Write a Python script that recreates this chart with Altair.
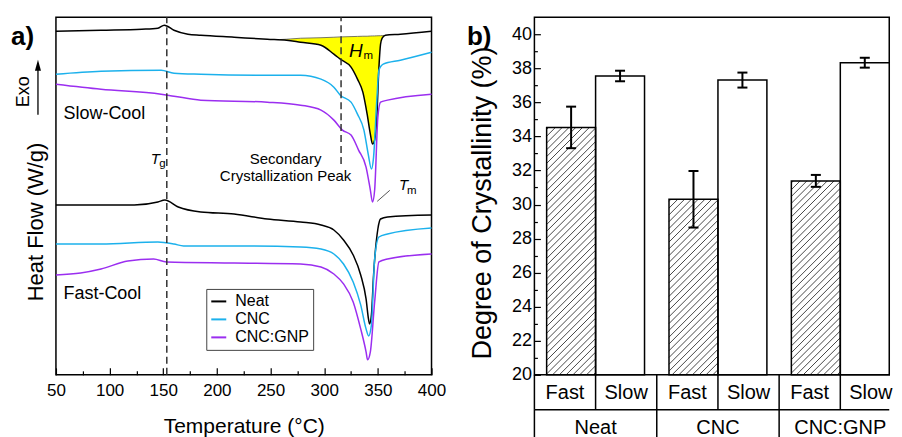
import altair as alt
import pandas as pd

# ---------------- Panel a: DSC heat-flow curves (stacked, arbitrary units) ----------------
materials = ["Neat", "CNC", "CNC:GNP"]
mat_colors = ["#000000", "#1cb1ec", "#9b2ef0"]

slow_neat_T = [50, 92, 130, 145, 151, 160, 173, 185, 216, 247, 265, 278, 297, 309, 315, 325, 331, 336, 340, 343, 345, 347, 349, 351, 352.5, 354, 357, 371, 400]
slow_neat_v = [3.44, 3.45, 3.46, 3.47, 3.50, 3.45, 3.41, 3.40, 3.38, 3.36, 3.35, 3.33, 3.30, 3.21, 3.16, 3.08, 2.96, 2.83, 2.61, 2.41, 2.31, 2.35, 2.58, 3.08, 3.31, 3.37, 3.40, 3.41, 3.44]

slow_cnc_T = [50, 92, 148, 160, 185, 247, 278, 297, 309, 315, 325, 331, 337, 341, 344, 346, 349, 351, 355, 371, 400]
slow_cnc_v = [3.01, 3.04, 3.05, 3.02, 3.01, 3.00, 3.00, 2.96, 2.88, 2.80, 2.73, 2.61, 2.45, 2.21, 2.06, 2.18, 2.75, 3.05, 3.11, 3.15, 3.23]

slow_gnp_T = [50, 92, 148, 160, 185, 247, 278, 297, 309, 317, 325, 332, 339, 343, 345, 347, 350, 352.5, 359, 400]
slow_gnp_v = [2.91, 2.86, 2.81, 2.79, 2.75, 2.73, 2.70, 2.65, 2.55, 2.45, 2.40, 2.25, 2.08, 1.85, 1.73, 1.85, 2.58, 2.73, 2.75, 2.81]

fast_neat_T = [50, 123, 145, 151.5, 164, 185, 216, 247, 278, 297, 309, 318, 327, 334, 339, 341.4, 342.3, 344, 346, 350, 352.5, 359, 400]
fast_neat_v = [1.70, 1.70, 1.73, 1.75, 1.68, 1.63, 1.61, 1.56, 1.53, 1.50, 1.45, 1.35, 1.20, 1.00, 0.76, 0.55, 0.51, 0.60, 1.00, 1.46, 1.56, 1.58, 1.60]

fast_cnc_T = [50, 92, 145, 160, 169, 216, 278, 297, 309, 318, 327, 334, 339, 341.4, 344, 347, 351, 359, 400]
fast_cnc_v = [1.31, 1.31, 1.33, 1.31, 1.29, 1.29, 1.28, 1.26, 1.21, 1.11, 0.93, 0.70, 0.46, 0.39, 0.50, 1.16, 1.38, 1.41, 1.47]

fast_gnp_T = [50, 73, 92, 117, 141, 153, 216, 278, 297, 309, 318, 327, 334, 339, 340.4, 343, 347, 351, 359, 400]
fast_gnp_v = [1.00, 1.02, 1.06, 1.14, 1.16, 1.13, 1.12, 1.11, 1.08, 1.01, 0.91, 0.73, 0.46, 0.23, 0.15, 0.23, 0.73, 1.13, 1.16, 1.21]

# melting enthalpy region (yellow) : curve and straight baseline
hm_T = [259, 265, 278, 297, 309, 315, 325, 331, 336, 340, 343, 345, 347, 349, 351, 352.5, 354, 355.5]
hm_curve = [3.355, 3.35, 3.33, 3.30, 3.21, 3.16, 3.08, 2.96, 2.83, 2.61, 2.41, 2.31, 2.35, 2.58, 3.08, 3.31, 3.37, 3.395]
hm_base = [3.357, 3.36, 3.37, 3.375, 3.38, 3.383, 3.386, 3.388, 3.39, 3.39, 3.392, 3.393, 3.393, 3.394, 3.395, 3.395, 3.396, 3.396]

tg_T = 153.3
sec_T = 315.7
x_ticks = [50, 100, 150, 200, 250, 300, 350, 400]
x_minor = [75, 125, 175, 225, 275, 325, 375]

# ---------------- Panel b: degree of crystallinity ----------------
groups = ["Neat", "CNC", "CNC:GNP"]
fast_vals = [34.53, 30.31, 31.39]
fast_err = [1.22, 1.66, 0.35]
slow_vals = [37.55, 37.31, 38.33]
slow_err = [0.31, 0.44, 0.29]
y_ticks_b = list(range(20, 41, 2))
y_minor_b = list(range(21, 41, 2))

# ---------------- build tables ----------------
rows = []
for mat, cool, Ts, vs in [
    ("Neat", "Slow", slow_neat_T, slow_neat_v),
    ("CNC", "Slow", slow_cnc_T, slow_cnc_v),
    ("CNC:GNP", "Slow", slow_gnp_T, slow_gnp_v),
    ("Neat", "Fast", fast_neat_T, fast_neat_v),
    ("CNC", "Fast", fast_cnc_T, fast_cnc_v),
    ("CNC:GNP", "Fast", fast_gnp_T, fast_gnp_v),
]:
    for t, v in zip(Ts, vs):
        rows.append({"T": t, "v": v, "material": mat, "cooling": cool})
curves = pd.DataFrame(rows)
hm_df = pd.DataFrame({"T": hm_T, "v": hm_curve, "base": hm_base})

GROUP_PX = 122.5
X_MAX_B = 2.9
W_A, H = 376, 358
W_B = GROUP_PX * X_MAX_B
xs = alt.Scale(domain=[50, 400], nice=False, zero=False)
ys = alt.Scale(domain=[0, 3.58], nice=False, zero=False)

xa_none = alt.X("T:Q", scale=xs, axis=None)
ya_none = alt.Y("v:Q", scale=ys, axis=None)

area = alt.Chart(hm_df).mark_area(color="#ffff00", opacity=1, interpolate="monotone").encode(
    x=alt.X("T:Q", scale=xs, axis=alt.Axis(
        orient="bottom", values=x_ticks, labelFontSize=17, labelColor="black", labelFlush=False,
        labelPadding=8, ticks=False, domain=False, grid=False, title="Temperature (°C)",
        titleFontSize=21, titleFontWeight="normal", titleColor="black", titleY=57.5,
        titleBaseline="alphabetic")),
    y=alt.Y("v:Q", scale=ys, axis=alt.Axis(
        orient="left", labels=False, ticks=False, domain=False, grid=False,
        title="Heat Flow (W/g)", titleFontSize=22, titleFontWeight="normal", titleColor="black",
        titleX=-13.5, titleY=204.5, titleAngle=270, titleAlign="center", titleBaseline="alphabetic")),
    y2="base:Q",
)
base_line = alt.Chart(hm_df).mark_line(color="#555555", strokeWidth=0.8).encode(x=xa_none, y=alt.Y("base:Q", scale=ys, axis=None))

lines = alt.Chart(curves).mark_line(strokeWidth=1.5, interpolate="monotone").encode(
    x=xa_none, y=ya_none,
    color=alt.Color("material:N", scale=alt.Scale(domain=materials, range=mat_colors),
                    legend=alt.Legend(title=None, orient="none", legendX=150.5, legendY=272,
                                      symbolType="stroke", symbolStrokeWidth=2, symbolSize=225,
                                      labelFontSize=16, labelColor="black", padding=4,
                                      strokeColor="#444444", fillColor="white", rowPadding=1,
                                      labelOffset=8)),
    detail="cooling:N",
)

tg_rule = alt.Chart(pd.DataFrame({"T": [tg_T], "y1": [0.0], "y2": [3.58]})).mark_rule(
    color="#333333", strokeWidth=1.5, strokeDash=[7, 4]).encode(
    x=alt.X("T:Q", scale=xs, axis=alt.Axis(orient="bottom", values=x_ticks, labels=False, domain=False,
                                             grid=False, ticks=True, tickSize=7, tickWidth=1.2,
                                             tickColor="black", offset=-7, title=None)),
    y=alt.Y("y1:Q", scale=ys, axis=None), y2="y2:Q")

sec_rule = alt.Chart(pd.DataFrame({"T": [sec_T], "y1": [2.11], "y2": [3.58]})).mark_rule(
    color="#333333", strokeWidth=1.5, strokeDash=[7, 4]).encode(
    x=alt.X("T:Q", scale=xs, axis=alt.Axis(orient="bottom", values=x_minor, labels=False, domain=False,
                                             grid=False, ticks=True, tickSize=4, tickWidth=1.2,
                                             tickColor="black", offset=-4, title=None)),
    y=alt.Y("y1:Q", scale=ys, axis=None), y2="y2:Q")

tm_ptr = alt.Chart(pd.DataFrame({"T": [349.4], "v": [1.737], "T2": [361.1], "v2": [1.847]})).mark_rule(
    color="#555555", strokeWidth=1).encode(x=xa_none, y=ya_none, x2="T2:Q", y2="v2:Q")

def txt(df, **kw):
    return alt.Chart(df).mark_text(**kw).encode(x=xa_none, y=ya_none, text="text:N")

t_cool = txt(pd.DataFrame({"T": [57, 57], "v": [2.56, 0.76], "text": ["Slow-Cool", "Fast-Cool"]}),
             align="left", baseline="alphabetic", fontSize=18, color="black")
t_sec = txt(pd.DataFrame({"T": [264, 264], "v": [2.11, 1.945], "text": ["Secondary", "Crystallization Peak"]}),
            align="center", baseline="alphabetic", fontSize=15, color="black")
t_it15 = txt(pd.DataFrame({"T": [138.4, 369.6], "v": [2.107, 1.847], "text": ["T", "T"]}),
             align="left", baseline="alphabetic", fontSize=15, fontStyle="italic", color="black")
t_it19 = txt(pd.DataFrame({"T": [323.0], "v": [3.18], "text": ["H"]}),
             align="left", baseline="alphabetic", fontSize=19, fontStyle="italic", color="black")
t_sub = txt(pd.DataFrame({"T": [146.2, 336.7, 377.1], "v": [2.08, 3.163, 1.813], "text": ["g", "m", "m"]}),
            align="left", baseline="alphabetic", fontSize=11.5, color="black")

one = pd.DataFrame({"k": [0]})
lab_a = alt.Chart(one).mark_text(text="a)", align="left", baseline="alphabetic", fontSize=26,
                                 fontWeight="bold", color="black").encode(x=alt.value(-45), y=alt.value(27.5))
exo = alt.Chart(one).mark_text(text="Exo", align="center", baseline="alphabetic", fontSize=18, angle=270,
                               color="black").encode(x=alt.value(-27), y=alt.value(74.5))
arrow_shaft = alt.Chart(one).mark_rule(color="black", strokeWidth=1.3).encode(
    x=alt.value(-18), y=alt.value(50), y2=alt.value(97.5))
arrow_head = alt.Chart(one).mark_point(shape="M0,-1L0.55,1L-0.55,1Z", size=121, filled=True, color="black",
                                       opacity=1).encode(x=alt.value(-18), y=alt.value(48))

panel_a = alt.layer(area, base_line, lines, tg_rule, sec_rule, tm_ptr, t_cool, t_sec, t_it15, t_it19, t_sub,
                    lab_a, exo, arrow_shaft, arrow_head).resolve_axis(
    x="independent", y="independent").properties(width=W_A, height=H)

# ---------------- panel b ----------------
bar_rows, err_rows = [], []
for k, g in enumerate(groups):
    for cool, vals, errs, off in [("Fast", fast_vals, fast_err, 0.1), ("Slow", slow_vals, slow_err, 0.5)]:
        bar_rows.append({"group": g, "cool": cool, "x0": k + off, "x1": k + off + 0.4, "pct": vals[k], "base": 20})
        err_rows.append({"xc": k + off + 0.2, "lo": vals[k] - errs[k], "hi": vals[k] + errs[k]})
bars_df = pd.DataFrame(bar_rows)
err_df = pd.DataFrame(err_rows)

xsb = alt.Scale(domain=[0, X_MAX_B], nice=False, zero=False)
ysb = alt.Scale(domain=[20, 41], nice=False, zero=False)

# diagonal hatch for "Fast" bars (style derived from bar geometry)
PX_X = GROUP_PX
PX_Y = H / 21.0
STEP = 6.8
hatch = []
for b in bar_rows:
    if b["cool"] != "Fast":
        continue
    w = (b["x1"] - b["x0"]) * PX_X
    h = (b["pct"] - 20) * PX_Y
    c = -h + 2.0
    while c < w:
        xa, xb = max(0.0, c), min(w, c + h)
        if xb > xa:
            hatch.append({"x": b["x0"] + xa / PX_X, "y": 20 + (xa - c) / PX_Y,
                          "x2": b["x0"] + xb / PX_X, "y2": 20 + (xb - c) / PX_Y})
        c += STEP
hatch_df = pd.DataFrame(hatch)

xb_none = alt.X("x0:Q", scale=xsb, axis=None)

bars_fill = alt.Chart(bars_df).mark_rect(fill="white").encode(
    x=xb_none, x2="x1:Q",
    y=alt.Y("pct:Q", scale=ysb, axis=alt.Axis(
        orient="left", values=y_ticks_b, labelFontSize=18, labelColor="black", labelFlush=False,
        labelPadding=3, ticks=False, domain=False, grid=False, title="Degree of Crystallinity (%)",
        titleFontSize=27, titleFontWeight="normal", titleColor="black", titleX=-43.5, titleY=185.5,
        titleAngle=270, titleAlign="center", titleBaseline="alphabetic")),
    y2="base:Q")
hatch_l = alt.Chart(hatch_df).mark_rule(color="#333333", strokeWidth=0.9).encode(
    x=alt.X("x:Q", scale=xsb, axis=None),
    y=alt.Y("y:Q", scale=ysb, axis=alt.Axis(orient="left", values=y_ticks_b, labels=False, domain=False,
                                            grid=False, ticks=True, tickSize=6, tickWidth=1.2,
                                            tickColor="black", offset=-6, title=None)),
    x2="x2:Q", y2="y2:Q")
bars_out = alt.Chart(bars_df).mark_rect(fillOpacity=0, stroke="black", strokeWidth=1.5).encode(
    x=xb_none, x2="x1:Q",
    y=alt.Y("pct:Q", scale=ysb, axis=alt.Axis(orient="left", values=y_minor_b, labels=False, domain=False,
                                              grid=False, ticks=True, tickSize=3, tickWidth=1.2,
                                              tickColor="black", offset=-3, title=None)),
    y2="base:Q")
err_rule = alt.Chart(err_df).mark_rule(color="black", strokeWidth=2).encode(
    x=alt.X("xc:Q", scale=xsb, axis=None), y=alt.Y("lo:Q", scale=ysb, axis=None), y2="hi:Q")
cap_lo = alt.Chart(err_df).mark_rule(color="black", strokeWidth=2, xOffset=-5, x2Offset=5).encode(
    x=alt.X("xc:Q", scale=xsb, axis=None), x2="xc:Q", y=alt.Y("lo:Q", scale=ysb, axis=None))
cap_hi = alt.Chart(err_df).mark_rule(color="black", strokeWidth=2, xOffset=-5, x2Offset=5).encode(
    x=alt.X("xc:Q", scale=xsb, axis=None), x2="xc:Q", y=alt.Y("hi:Q", scale=ysb, axis=None))

# category table under the bars
row1_df = pd.DataFrame({"p": [0, 0.5, 1, 1.5, 2, 2.5]})
row2_df = pd.DataFrame({"p": [0, 1, 2]})
row1_lines = alt.Chart(row1_df).mark_rule(color="black", strokeWidth=1.5).encode(
    x=alt.X("p:Q", scale=xsb, axis=None), y=alt.value(H), y2=alt.value(H + 35))
row2_lines = alt.Chart(row2_df).mark_rule(color="black", strokeWidth=1.5).encode(
    x=alt.X("p:Q", scale=xsb, axis=None), y=alt.value(H + 35), y2=alt.value(H + 80))
hline = alt.Chart(pd.DataFrame({"p": [0], "p2": [X_MAX_B]})).mark_rule(color="black", strokeWidth=1.5).encode(
    x=alt.X("p:Q", scale=xsb, axis=None), x2="p2:Q", y=alt.value(H + 35))
cool_lab = pd.DataFrame({"p": [k + o for k in range(3) for o in (0.25, 0.75)],
                         "text": ["Fast", "Slow"] * 3})
grp_lab = pd.DataFrame({"p": [k + 0.5 for k in range(3)], "text": groups})
row1_text = alt.Chart(cool_lab).mark_text(fontSize=20, color="black", baseline="alphabetic").encode(
    x=alt.X("p:Q", scale=xsb, axis=None), y=alt.value(H + 24.5), text="text:N")
row2_text = alt.Chart(grp_lab).mark_text(fontSize=20, color="black", baseline="alphabetic").encode(
    x=alt.X("p:Q", scale=xsb, axis=None), y=alt.value(H + 59.5), text="text:N")
lab_b = alt.Chart(one).mark_text(text="b)", align="left", baseline="alphabetic", fontSize=26,
                                 fontWeight="bold", color="black").encode(x=alt.value(-67.5), y=alt.value(27.5))

panel_b = alt.layer(bars_fill, hatch_l, bars_out, err_rule, cap_lo, cap_hi, row1_lines, row2_lines, hline,
                    row1_text, row2_text, lab_b).resolve_axis(
    x="independent", y="independent").properties(width=W_B, height=H)

chart = alt.hconcat(panel_a, panel_b, spacing=103, bounds="flush").resolve_scale(
    x="independent", y="independent", color="independent").resolve_legend(color="independent").properties(
    padding={"left": 2, "top": 7, "right": 0, "bottom": 0}).configure(
    font="Liberation Sans").configure_view(stroke="black", strokeWidth=1.5)

chart.save("out.html", embed_options={"renderer": "svg", "actions": False})
